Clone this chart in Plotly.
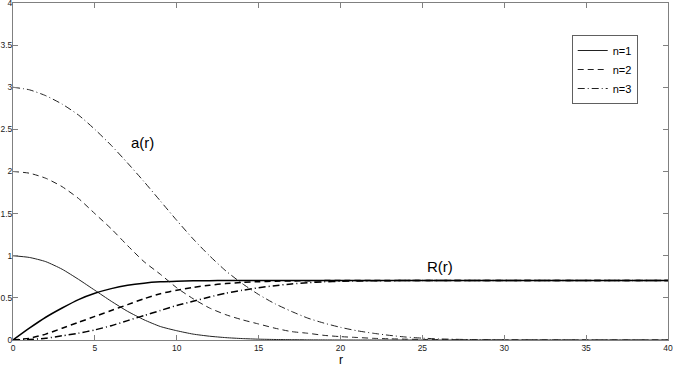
import plotly.graph_objects as go

# --- Data ---

r_a = [0, 1, 2, 3, 4, 5, 6, 7, 8, 9, 10, 11, 12, 13, 14, 15, 16, 17, 18, 19, 20,
       21, 22, 23, 24, 25, 26, 28, 30, 35, 40]
a_n1 = [1.0, 0.98, 0.93, 0.84, 0.72, 0.59, 0.46, 0.34, 0.24, 0.16, 0.11, 0.07, 0.045,
        0.028, 0.017, 0.01, 0.006, 0.004, 0.002, 0.001, 0.0, 0, 0, 0, 0, 0, 0, 0, 0, 0, 0]
a_n2 = [2.0, 1.98, 1.92, 1.82, 1.68, 1.50, 1.32, 1.12, 0.93, 0.78, 0.62, 0.49, 0.38,
        0.30, 0.24, 0.19, 0.14, 0.10, 0.08, 0.055, 0.04, 0.03, 0.02, 0.014, 0.01, 0.007,
        0.005, 0.002, 0.001, 0.0, 0.0]
a_n3 = [3.0, 2.97, 2.9, 2.8, 2.67, 2.5, 2.31, 2.1, 1.88, 1.65, 1.42, 1.2, 1.0, 0.82,
        0.67, 0.54, 0.43, 0.34, 0.26, 0.2, 0.15, 0.11, 0.08, 0.055, 0.035, 0.022, 0.013,
        0.005, 0.001, 0.0, 0.0]

r_R = [0, 1, 2, 3, 4, 5, 6, 7, 8, 9, 10, 11, 12, 13, 14, 15, 16, 17, 18, 19, 20,
       22, 25, 30, 35, 40]
R_n1 = [0.0, 0.14, 0.27, 0.38, 0.48, 0.555, 0.61, 0.65, 0.675, 0.69, 0.698, 0.702,
        0.704, 0.706, 0.707, 0.707, 0.707, 0.707, 0.707, 0.707, 0.707, 0.707, 0.707,
        0.707, 0.707, 0.707]
R_n2 = [0.0, 0.02, 0.07, 0.14, 0.21, 0.28, 0.35, 0.42, 0.49, 0.55, 0.59, 0.625, 0.65,
        0.67, 0.683, 0.692, 0.698, 0.701, 0.703, 0.705, 0.706, 0.707, 0.707, 0.707,
        0.707, 0.707]
R_n3 = [0.0, 0.005, 0.02, 0.05, 0.08, 0.12, 0.17, 0.23, 0.29, 0.35, 0.41, 0.46, 0.51,
        0.555, 0.59, 0.62, 0.645, 0.665, 0.68, 0.69, 0.697, 0.703, 0.706, 0.707,
        0.707, 0.707]

labels = ["n=1", "n=2", "n=3"]
dashes = ["solid", "6px,4px", "7px,3px,1px,3px"]

x_ticks = [0, 5, 10, 15, 20, 25, 30, 35, 40]
y_ticks = [0, 0.5, 1, 1.5, 2, 2.5, 3, 3.5, 4]

FONT = "Liberation Sans, Arial"

fig = go.Figure()

for name, dash, a_vals, R_vals in zip(labels, dashes, [a_n1, a_n2, a_n3], [R_n1, R_n2, R_n3]):
    fig.add_trace(go.Scatter(
        x=r_a, y=a_vals, mode="lines", name=name, legendgroup=name, showlegend=True,
        line=dict(color="#222", width=1, dash=dash, shape="spline", smoothing=0.6)
    ))
    fig.add_trace(go.Scatter(
        x=r_R, y=R_vals, mode="lines", name=name, legendgroup=name, showlegend=False,
        line=dict(color="black", width=1.5, dash=dash, shape="spline", smoothing=0.6)
    ))

axis_style = dict(
    showline=True, linecolor="#808080", linewidth=1, mirror="ticks",
    ticks="inside", ticklen=5, tickcolor="#808080", showgrid=False, zeroline=False,
    automargin=False, ticklabeloverflow="allow",
    tickfont=dict(family=FONT, size=8.5, color="#222"),
)

fig.update_xaxes(range=[0, 40.001], tickvals=x_ticks, ticktext=[str(v) for v in x_ticks],
                 **axis_style)
fig.update_yaxes(range=[0, 4.0002], tickvals=y_ticks, ticktext=[f"{v:g}" for v in y_ticks],
                 ticklabelstandoff=-2, **axis_style)

fig.add_annotation(x=7.9, y=2.35, text="a(r)", showarrow=False,
                   font=dict(family=FONT, size=15, color="black"))
fig.add_annotation(x=26.1, y=0.87, text="R(r)", showarrow=False,
                   font=dict(family=FONT, size=15, color="black"))
# x-axis title
fig.add_annotation(xref="paper", yref="paper", x=0.5, y=-0.06, yanchor="middle",
                   text="r", showarrow=False,
                   font=dict(family=FONT, size=12, color="black"))

fig.update_layout(
    width=673, height=374,
    margin=dict(l=13, r=5, t=3, b=34),
    plot_bgcolor="white", paper_bgcolor="white",
    legend=dict(x=0.853, y=0.905, xanchor="left", yanchor="top",
                bordercolor="#606060", borderwidth=1, bgcolor="white",
                font=dict(family=FONT, size=11, color="black"),
                itemwidth=30, tracegroupgap=0),
)

# drop the browser's default body margin so the figure sits at the page origin
fig.write_html("out.html", config={"displayModeBar": False},
               post_script="document.body.style.margin='0';document.body.style.overflow='hidden';")
